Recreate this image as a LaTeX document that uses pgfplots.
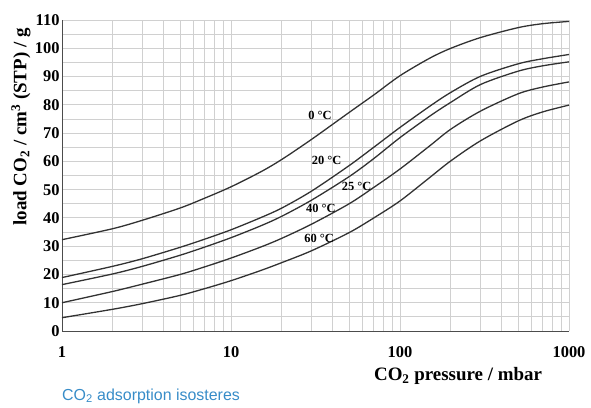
\documentclass[border=0pt]{standalone}
\usepackage{fontspec}
\setmainfont{Liberation Serif}
\newfontfamily\capfont{Liberation Sans}
\usepackage{pgfplots}
\pgfplotsset{compat=1.18}
\definecolor{curve}{RGB}{50,50,50}
\definecolor{gridc}{RGB}{208,208,208}
\definecolor{capblue}{RGB}{55,140,200}
\pgfplotstableread{
x    a     b     c     d     e
1    32.3  18.9  16.4  10.0  4.7
2    36.2  22.9  20.2  14.0  7.7
3    39.2  25.6  22.9  16.6  9.7
5    43.5  29.6  26.8  20.0  12.6
7    47.0  32.5  29.7  22.7  15.0
10   51.0  35.8  33.0  25.8  17.8
15   56.3  40.1  37.2  29.7  21.4
20   60.7  43.5  40.6  32.8  24.2
30   67.8  49.5  46.3  37.8  28.4
50   77.3  58.5  54.6  45.0  34.8
70   83.5  65.0  61.0  50.8  40.0
100  90.3  72.0  68.4  57.3  46.0
150  96.5  79.5  76.0  65.5  54.3
200  100.0 84.4  80.9  71.4  60.2
300  103.8 90.1  87.2  77.8  67.3
500  107.3 94.5  91.9  83.9  74.3
700  108.7 96.3  93.8  86.3  77.5
1000 109.5 97.8  95.2  88.1  79.9
}\isodata
\begin{document}
\begin{tikzpicture}[x=1bp,y=1bp]
\path[use as bounding box] (0,0) rectangle (591,407);
\begin{axis}[at={(62bp,76bp)}, anchor=south west, scale only axis,
  width=507bp, height=311bp,
  xmode=log, xmin=1, xmax=1000, ymin=0, ymax=110,
  xtick={1,10,100,1000},
  xticklabels={\textbf{1},\textbf{10},\textbf{100},\textbf{1000}},
  ytick={0,10,...,110}, minor ytick={5,15,...,105},
  yticklabel={\textbf{\pgfmathprintnumber[assume math mode=true]{\tick}}},
  grid=both,
  major grid style={gridc, line width=0.9bp},
  minor grid style={gridc, line width=0.9bp},
  axis x line*=bottom, axis y line*=left,
  axis line style={black!70, line width=1bp, -},
  tick style={draw=none},
  ticklabel style={font=\bfseries\fontsize{16.5}{17}\selectfont},
  xticklabel style={yshift=-12bp},
  yticklabel style={xshift=1bp},
  clip=false,
]
\addplot[curve, line width=1.3bp, smooth] table[x=x, y=a] {\isodata};
\addplot[curve, line width=1.3bp, smooth] table[x=x, y=b] {\isodata};
\addplot[curve, line width=1.3bp, smooth] table[x=x, y=c] {\isodata};
\addplot[curve, line width=1.3bp, smooth] table[x=x, y=d] {\isodata};
\addplot[curve, line width=1.3bp, smooth] table[x=x, y=e] {\isodata};
\begin{scope}[every node/.style={font=\bfseries\fontsize{12.5}{13}\selectfont, inner sep=1bp}]
\node at (axis cs:33.6,76.4) {0 °C};
\node at (axis cs:36.8,60.3) {20 °C};
\node at (axis cs:55.4,51.2) {25 °C};
\node at (axis cs:34.0,43.2) {40 °C};
\node at (axis cs:33.2,32.7) {60 °C};
\end{scope}
\end{axis}
\node[rotate=90, font=\bfseries\fontsize{19}{20}\selectfont] at (21,280) {load CO\textsubscript{2} / cm\textsuperscript{3} (STP) / g};
\node[font=\bfseries\fontsize{19}{20}\selectfont] at (458,31) {CO\textsubscript{2} pressure / mbar};
\node[anchor=west, inner sep=0, text=capblue, font=\capfont\fontsize{16}{17}\selectfont] at (62,11) {CO\textsubscript{2} adsorption isosteres};
\end{tikzpicture}
\end{document}
